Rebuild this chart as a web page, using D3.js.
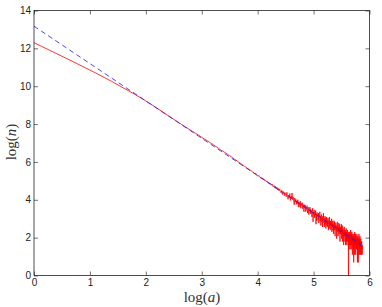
<!DOCTYPE html>
<html>
<head>
<meta charset="utf-8">
<script src="https://cdn.jsdelivr.net/npm/d3@7"></script>
<style>
  html, body { margin: 0; padding: 0; background: #fff; }
  svg { display: block; }
  .tick text { font-family: "Liberation Sans", Arial, sans-serif; font-size: 10px; fill: #222; }
  .tick line { stroke: #333; stroke-width: 0.7; }
  .axis-label { font-family: "Liberation Serif", "Times New Roman", serif; font-size: 15px; fill: #333; }
</style>
</head>
<body>
<svg id="chart"></svg>
<script>
// number of clusters n of each size a = 1, 2, 3, ...
const counts = [
  219700, 81225, 44620, 28537, 19733, 14618, 11124, 8725, 6916, 5640,
  4680, 3950, 3380, 2930, 2570, 2280, 2030, 1820, 1650, 1490,
  1360, 1250, 1150, 1060, 975, 905, 835, 770, 725, 680,
  640, 598, 560, 532, 498, 466, 444, 420, 395, 378,
  356, 340, 320, 309, 292, 283, 268, 257, 250, 236,
  232, 214, 219, 198, 190, 197, 178, 170, 176, 161,
  166, 149, 154, 140, 147, 131, 136, 124, 129, 118,
  124, 109, 116, 103, 111, 97, 106, 92, 99, 88,
  97, 84, 79, 90, 72, 85, 82, 68, 80, 77,
  64, 81, 71, 56, 70, 61, 76, 53, 66, 59,
  78, 55, 63, 50, 42, 60, 49, 56, 43, 52,
  44, 55, 37, 49, 47, 38, 51, 35, 45, 41,
  47, 34, 43, 38, 29, 42, 36, 41, 29, 37,
  33, 40, 27, 35, 37, 25, 34, 30, 37, 26,
  33, 27, 31, 22, 30, 35, 17, 29, 25, 32,
  21, 28, 24, 31, 15, 26, 18, 28, 23, 25,
  19, 27, 16, 24, 22, 29, 18, 23, 14, 22,
  25, 17, 21, 13, 23, 19, 27, 16, 20, 13,
  19, 23, 15, 21, 12, 18, 22, 14, 19, 17,
  13, 21, 16, 11, 18, 15, 22, 12, 17, 14,
  18, 11, 16, 14, 20, 10, 15, 13, 18, 11,
  15, 9, 14, 18, 11, 13, 17, 8, 14, 12,
  16, 11, 13, 7, 14, 12, 17, 10, 12, 8,
  13, 11, 16, 9, 12, 10, 15, 6, 11, 13,
  9, 12, 10, 15, 7, 11, 9, 14, 6, 10,
  12, 8, 10, 5, 11, 9, 13, 8, 10, 6,
  11, 9, 5, 10, 8, 12, 6, 9, 5, 10,
  8, 11, 6, 9, 7, 10, 1, 8, 4, 9,
  7, 10, 5, 8, 4, 9, 7, 11, 5, 8,
  4, 9, 7, 10, 5, 8, 3, 7, 9, 6,
  8, 4, 7, 2, 9, 6, 8, 3, 7, 10,
  5, 7, 6, 9, 3, 6, 8, 4, 7, 4,
  6, 9, 5, 7, 2, 6, 8, 3, 6, 2,
  7, 5, 6, 9, 4, 6, 3, 7, 5, 8,
  4, 6, 5, 3, 7, 5, 4, 6, 3, 5,
  6, 4, 5, 3, 5
];
const sizes = counts.map((_, i) => i + 1);

// power-law fit (blue dashed), end points
const fitSizes  = [1, 350];
const fitCounts = [524000, 5.0];

const xTicks = [0, 1, 2, 3, 4, 5, 6];
const yTicks = [0, 2, 4, 6, 8, 10, 12, 14];

const W = 382, H = 307;
const m = { left: 34, right: 12.5, top: 10.5, bottom: 31.5 };
const iw = W - m.left - m.right;
const ih = H - m.top - m.bottom;

const svg = d3.select('#chart').attr('width', W).attr('height', H);
const g = svg.append('g').attr('transform', `translate(${m.left},${m.top})`);

const x = d3.scaleLog().base(Math.E).domain([1, Math.exp(6)]).range([0, iw]);
const y = d3.scaleLog().base(Math.E).domain([1, Math.exp(14)]).range([ih, 0]);

const fmt = d => Math.round(Math.log(d));

// axes, ticks point inward
g.append('g').attr('transform', `translate(0,${ih})`)
  .call(d3.axisBottom(x).tickValues(xTicks.map(Math.exp)).tickFormat(fmt)
    .tickSizeInner(-4).tickSizeOuter(0).tickPadding(3.5))
  .call(a => a.select('.domain').remove());
g.append('g')
  .call(d3.axisLeft(y).tickValues(yTicks.map(Math.exp)).tickFormat(fmt)
    .tickSizeInner(-4).tickSizeOuter(0).tickPadding(3))
  .call(a => a.select('.domain').remove());
g.append('g')
  .call(d3.axisTop(x).tickValues(xTicks.map(Math.exp)).tickFormat('')
    .tickSizeInner(-4).tickSizeOuter(0))
  .call(a => a.select('.domain').remove());
g.append('g').attr('transform', `translate(${iw},0)`)
  .call(d3.axisRight(y).tickValues(yTicks.map(Math.exp)).tickFormat('')
    .tickSizeInner(-4).tickSizeOuter(0))
  .call(a => a.select('.domain').remove());

// data
const line = d3.line().x(d => x(d[0])).y(d => y(d[1]));

g.append('path')
  .datum(d3.zip(sizes, counts))
  .attr('fill', 'none')
  .attr('stroke', '#ff0000')
  .attr('stroke-width', 0.8)
  .attr('d', line);

g.append('path')
  .datum(d3.zip(fitSizes, fitCounts))
  .attr('fill', 'none')
  .attr('stroke', '#1a1aff')
  .attr('stroke-width', 0.8)
  .attr('stroke-dasharray', '5,3.5')
  .attr('d', line);

// box
g.append('rect')
  .attr('width', iw).attr('height', ih)
  .attr('fill', 'none').attr('stroke', '#222').attr('stroke-width', 0.8);

// labels
const xl = svg.append('text').attr('class', 'axis-label')
  .attr('x', 202).attr('y', 302).attr('text-anchor', 'middle');
xl.append('tspan').text('log(');
xl.append('tspan').attr('font-style', 'italic').text('a');
xl.append('tspan').text(')');

const yl = svg.append('text').attr('class', 'axis-label')
  .attr('transform', 'translate(16,142) rotate(-90)').attr('text-anchor', 'middle');
yl.append('tspan').text('log(');
yl.append('tspan').attr('font-style', 'italic').text('n');
yl.append('tspan').text(')');
</script>
</body>
</html>
